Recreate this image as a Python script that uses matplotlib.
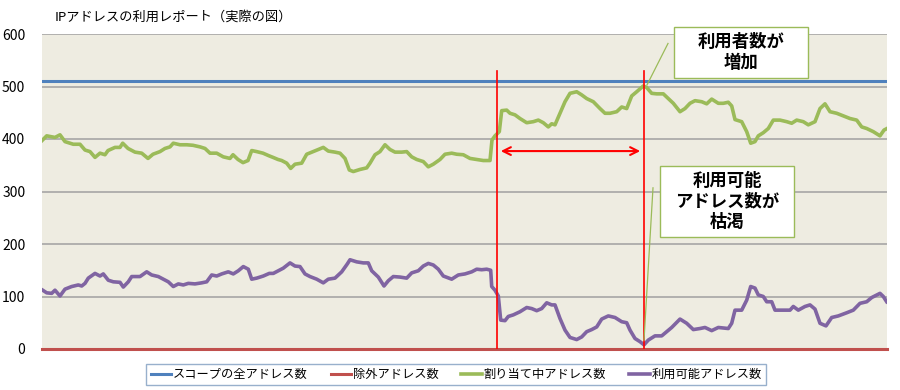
#!/usr/bin/env python3
# -*- coding: utf-8 -*-
"""IPアドレスの利用レポート (DHCP scope usage) recreation."""

import matplotlib
matplotlib.use("Agg")
import matplotlib.pyplot as plt
from matplotlib.patches import Rectangle

plt.rcParams['font.family'] = ['Noto Sans CJK JP', 'DejaVu Sans']

# --- Data (x = sample index over the reporting period) ---
TITLE = "IPアドレスの利用レポート（実際の図）"
SERIES_NAMES = ["スコープの全アドレス数", "除外アドレス数", "割り当て中アドレス数", "利用可能アドレス数"]
scope_total = 510
excluded = 0
T_END = 845

t_alloc = [0, 4.7, 13, 18, 23, 31.3, 38, 43, 48, 53, 58, 63, 66, 73, 78, 80.7, 86, 93, 99.7, 106,
           111, 118, 123, 128, 131.3, 138, 144.7, 151, 158, 163, 168, 174.7, 181.3, 188, 191, 196,
           201, 206, 209.7, 214.7, 221, 227, 231, 236, 239.7, 244.7, 248.7, 253, 259.7, 264.7,
           271.3, 276.3, 281.3, 286.3, 293, 298, 303, 307.3, 311.3, 318, 324.7, 328, 333, 338, 343,
           348, 353, 359.7, 364.7, 369.7, 374.7, 381.3, 386.3, 391.3, 398, 403, 409.7, 414.7, 421.3,
           428, 434.7, 441.3, 448, 450, 453, 457.3, 459.7, 464.7, 468, 473, 478, 484.7, 491.3, 496.3,
           501.3, 506.3, 509.7, 513, 518, 523, 528, 534.7, 539.7, 544.7, 551.3, 558, 563, 568, 574.7,
           579.7, 584.7, 589.7, 594.7, 601.3, 604.7, 609.7, 614.7, 621.3, 626.3, 631.3, 638, 643, 648,
           653, 659.7, 664.7, 669.7, 676.3, 681.3, 686.3, 689.7, 693, 699.7, 704.7, 708.7, 713, 716.3,
           721.3, 726.3, 731.3, 738, 744.7, 749.7, 754.7, 761.3, 766.3, 773, 778, 783, 788, 794.7,
           801.3, 808, 814.7, 819.7, 824.7, 831.3, 838, 842, 845]
alloc = [397, 406, 403, 408, 395, 390, 390, 379, 376, 365, 373, 370, 378, 384, 384, 392, 382, 375, 373, 363,
         371, 376, 382, 385, 392, 389, 389, 388, 385, 382, 373, 373, 366, 363, 370, 361,
         355, 359, 378, 376, 373, 368, 365, 361, 359, 354, 344, 352, 354, 371,
         376, 380, 384, 377, 375, 373, 363, 341, 338, 342, 345, 354, 370, 376, 389,
         380, 375, 375, 376, 366, 361, 357, 347, 352, 361, 371, 373, 371, 370,
         363, 361, 359, 359, 398, 406, 414, 454, 455, 449, 446, 439, 431, 433, 436,
         431, 423, 429, 427, 449, 471, 487, 490, 484, 477, 471, 458, 449, 449, 452,
         461, 458, 482, 490, 501, 498, 487, 486, 486, 477, 468, 452, 458, 468,
         473, 471, 467, 476, 468, 468, 470, 463, 437, 433, 414, 392, 395, 406,
         412, 420, 436, 436, 433, 430, 436, 433, 427, 433, 458, 467, 452, 449,
         444, 439, 436, 423, 420, 414, 406, 417, 420]

t_avail = [0.7, 4.7, 9.7, 13, 18, 23, 29.7, 36.3, 39.7, 43, 46.3, 53, 58, 61.3, 66.3, 71.3, 78, 81.3, 86.3,
           89.7, 98, 104.7, 109.7, 116.3, 121.3, 126.3, 131.3, 136.3, 141.3, 146.3, 153, 159.7, 164.7,
           169.7, 174.7, 179.7, 186.3, 191.3, 196.3, 201.3, 206.3, 209.7, 214.7, 221.3, 227.3, 231.3,
           236.3, 241.3, 248, 253, 258, 263, 268, 274.7, 281.3, 286.3, 293, 299.7, 305.3, 308, 314.7,
           321.3, 326.3, 329.7, 336.3, 342, 346.3, 351.3, 358, 364.7, 369.7, 376.3, 381.3, 386.3, 391.3,
           396.3, 401.3, 409.7, 416.3, 423, 429.7, 434.7, 439.7, 444.7, 448.7, 449.7, 453, 456.3, 458.7,
           463, 466.3, 471.3, 478, 484.7, 489.7, 494.7, 499.7, 504.7, 509.7, 513, 518, 523, 528, 534.7,
           539.7, 544.7, 549.7, 554.7, 559.7, 566.3, 573, 579.7, 584.7, 588, 593, 598, 602, 606.3, 613,
           619.7, 624.7, 629.7, 638, 644.7, 651.3, 658, 663, 669.7, 676.3, 686.3, 689.7, 693, 699.7,
           704.7, 708.7, 713, 716.3, 721.3, 724.7, 729.7, 733, 739.7, 748, 751.3, 756.3, 763, 768, 773,
           778, 784, 789.7, 796.3, 804.7, 811.3, 818, 824.7, 829.7, 838, 841.3, 844.7]
avail = [112, 107, 106, 112, 101, 114, 119, 122, 120, 125, 135, 144, 139, 143, 131, 128, 127, 118, 128,
         138, 138, 147, 141, 138, 133, 128, 119, 124, 122, 125, 124, 126, 128,
         141, 139, 143, 147, 143, 149, 157, 152, 133, 135, 139, 144, 144,
         149, 154, 164, 158, 157, 143, 138, 133, 126, 133, 135, 147, 162, 170, 166,
         164, 164, 149, 137, 120, 130, 138, 137, 135, 145, 149, 158, 163, 160,
         152, 139, 133, 141, 143, 147, 152, 151, 152, 150, 119, 112, 101, 55,
         54, 62, 65, 71, 79, 77, 73, 77, 88, 84, 84, 58, 36, 22, 18,
         23, 33, 37, 42, 57, 63, 60, 52, 50, 36, 20, 14, 8, 17, 25,
         25, 33, 41, 57, 49, 37, 39, 41, 35, 41, 39, 49, 74, 74,
         93, 119, 116, 103, 100, 90, 90, 74, 74, 74, 81, 74, 81, 84, 76,
         49, 44, 60, 63, 69, 74, 87, 90, 98, 106, 100, 90]

# events marked on the chart
t_surge_start = 455
t_exhausted = 602
Y_TICKS = [0, 100, 200, 300, 400, 500, 600]

C_BLUE = '#4F81BD'
C_RED = '#C0504D'
C_GREEN = '#9BBB59'
C_PURPLE = '#8064A2'

fig = plt.figure(figsize=(9, 3.9), dpi=100)
ax = fig.add_axes([42 / 900, 1 - 349 / 390, 845 / 900, 315 / 390])
ax.set_facecolor('#EEECE1')

ax.plot([0, T_END], [scope_total, scope_total], color=C_BLUE, lw=2.2, label=SERIES_NAMES[0], zorder=3)
ax.plot([0, T_END], [excluded, excluded], color=C_RED, lw=2.2, label=SERIES_NAMES[1], zorder=3, clip_on=False)
ax.plot(t_alloc, alloc, color=C_GREEN, lw=2.6, label=SERIES_NAMES[2], zorder=3)
ax.plot(t_avail, avail, color=C_PURPLE, lw=2.6, label=SERIES_NAMES[3], zorder=3)

ax.set_xlim(0, T_END)
ax.set_ylim(0, 600)
ax.set_yticks(Y_TICKS)
ax.set_xticks([])
ax.tick_params(axis='y', length=0, labelsize=10, pad=12)
ax.yaxis.grid(True, color='#A6A6A6', linewidth=1.2)
ax.set_axisbelow(True)
for s in ax.spines.values():
    s.set_visible(False)

# red markers for the period
for t in (t_surge_start, t_exhausted):
    ax.plot([t, t], [0, 530], color='#FF0000', lw=1.2, zorder=4)
ax.annotate('', xy=(t_surge_start + 1, 377), xytext=(t_exhausted - 1, 377),
            arrowprops=dict(arrowstyle='<->', color='#FF0000', lw=1.5,
                            mutation_scale=14), zorder=5)

# callout boxes
ax.add_patch(Rectangle((632, 516), 134, 97, facecolor='white', edgecolor=C_GREEN,
                       lw=1.0, clip_on=False, zorder=6))
ax.text(699, 565, "利用者数が\n増加", ha='center', va='center', fontsize=12.5,
        fontweight='bold', linespacing=1.2, zorder=7, clip_on=False)
ax.plot([626, 605], [582, 503], color=C_GREEN, lw=0.9, zorder=5, clip_on=False)

ax.add_patch(Rectangle((618, 213), 134, 136, facecolor='white', edgecolor=C_GREEN,
                       lw=1.0, zorder=6))
ax.text(685, 281, "利用可能\nアドレス数が\n枯渇", ha='center', va='center', fontsize=12.5,
        fontweight='bold', linespacing=1.2, zorder=7)
ax.plot([611, 602], [307, 17], color=C_GREEN, lw=0.9, zorder=5)

fig.text(55 / 900, 1 - 17 / 390, TITLE, fontsize=9.5, ha='left', va='center')

leg = fig.legend(loc='center', bbox_to_anchor=(456 / 900, 1 - 374.5 / 390), ncol=4,
                 fontsize=8.8, frameon=True, fancybox=False, handlelength=1.7,
                 handletextpad=0.1, columnspacing=1.9, borderpad=0.35)
leg.get_frame().set_edgecolor('#7F9CC0')
leg.get_frame().set_linewidth(1.0)

plt.savefig('out.png', dpi=100)
